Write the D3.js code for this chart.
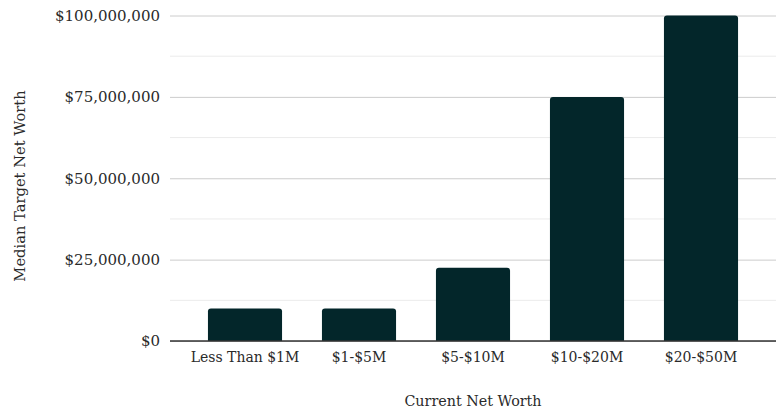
<!DOCTYPE html>
<html>
<head>
<meta charset="utf-8">
<script src="https://cdn.jsdelivr.net/npm/d3@7"></script>
<style>
  html, body { margin: 0; padding: 0; background: #ffffff; }
  svg text { font-family: Georgia, "DejaVu Serif", "Liberation Serif", serif; fill: #2a2a2a; }
</style>
</head>
<body>
<svg id="chart" width="776" height="410"></svg>
<script>
// Median target net worth by current net worth bracket
const categories = ["Less Than $1M", "$1-$5M", "$5-$10M", "$10-$20M", "$20-$50M"];
const medianTarget = [10000000, 10000000, 22500000, 75000000, 100000000];
const majorTicks = [0, 25000000, 50000000, 75000000, 100000000];
const minorTicks = [12500000, 37500000, 62500000, 87500000];

const svg = d3.select("#chart");
const plotLeft = 170, plotRight = 776, plotTop = 15.5, plotBottom = 341;

const x = d3.scaleBand()
  .domain(categories)
  .range([188, 758])
  .paddingInner(0.35)
  .paddingOuter(0.175);

const y = d3.scaleLinear()
  .domain([0, 100000000])
  .range([plotBottom, plotTop]);

const fmt = v => "$" + d3.format(",")(v);

// minor gridlines
svg.append("g")
  .selectAll("line")
  .data(minorTicks)
  .join("line")
  .attr("x1", plotLeft).attr("x2", plotRight)
  .attr("y1", d => y(d)).attr("y2", d => y(d))
  .attr("stroke", "#ebebeb").attr("stroke-width", 1);

// y axis with major gridlines
const yAxis = svg.append("g")
  .attr("transform", `translate(${plotLeft},0)`)
  .call(d3.axisLeft(y).tickValues(majorTicks).tickFormat(fmt)
    .tickSize(-(plotRight - plotLeft)).tickPadding(10));
yAxis.select(".domain").remove();
yAxis.selectAll(".tick line").attr("stroke", "#cccccc");
yAxis.selectAll(".tick text")
  .attr("font-size", 15)
  .style("font-variant-numeric", "oldstyle-nums");

// bars with slightly rounded tops
const r = 3;
svg.append("g")
  .selectAll("path")
  .data(categories.map((c, i) => ({ c, v: medianTarget[i] })))
  .join("path")
  .attr("fill", "#03262a")
  .attr("d", d => {
    const x0 = x(d.c), w = x.bandwidth(), y0 = y(d.v), yb = y(0);
    return `M${x0},${yb}V${y0 + r}Q${x0},${y0} ${x0 + r},${y0}` +
           `H${x0 + w - r}Q${x0 + w},${y0} ${x0 + w},${y0 + r}V${yb}Z`;
  });

// baseline
svg.append("line")
  .attr("x1", plotLeft).attr("x2", plotRight)
  .attr("y1", y(0)).attr("y2", y(0))
  .attr("stroke", "#333333").attr("stroke-width", 1.3);

// x axis labels
const xAxis = svg.append("g")
  .attr("transform", `translate(0,${plotBottom})`)
  .call(d3.axisBottom(x).tickSize(0).tickPadding(11));
xAxis.select(".domain").remove();
xAxis.selectAll(".tick text")
  .attr("font-size", 14)
  .style("font-variant-numeric", "oldstyle-nums");

// axis titles
svg.append("text")
  .attr("x", (plotLeft + plotRight) / 2)
  .attr("y", 406)
  .attr("text-anchor", "middle")
  .attr("font-size", 14.3)
  .text("Current Net Worth");

svg.append("text")
  .attr("transform", `translate(25,186) rotate(-90)`)
  .attr("text-anchor", "middle")
  .attr("font-size", 14.7)
  .text("Median Target Net Worth");
</script>
</body>
</html>
